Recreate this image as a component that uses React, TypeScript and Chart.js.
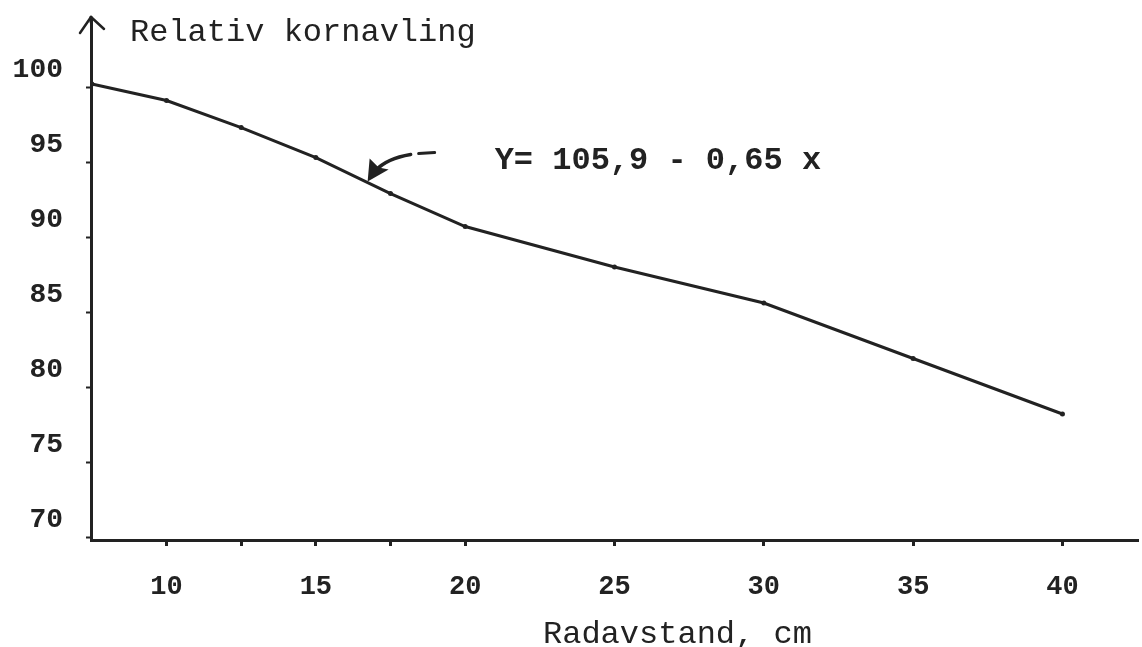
import React, { useEffect, useRef } from "react";
import { Chart, registerables } from "chart.js";

Chart.register(...registerables);

// ---- data ----
const rowSpacing = [7.5, 10, 12.5, 15, 17.5, 20, 25, 30, 35, 40];
const relativeYield = [100.2, 99.1, 97.3, 95.3, 92.9, 90.7, 88.0, 85.6, 81.9, 78.2];
const xTickValues = [10, 12.5, 15, 17.5, 20, 25, 30, 35, 40];
const xTickLabels = ["10", "", "15", "", "20", "25", "30", "35", "40"];
const yTickValues = [70, 75, 80, 85, 90, 95, 100];
const yTickLabels = ["70", "75", "80", "85", "90", "95", "100"];
const yTitle = "Relativ kornavling";
const xTitle = "Radavstand, cm";
const equation = "Y= 105,9 - 0,65 x";
const arrowAnchor = { x: 16.7, y: 93.7 };

const INK = "#222222";
const MONO = '"Liberation Mono", "DejaVu Sans Mono", monospace';

const decorPlugin = {
  id: "decor",
  afterDraw(chart: any) {
    const { ctx, chartArea, scales } = chart;
    const ax = chartArea.left;
    ctx.save();
    ctx.strokeStyle = INK;
    ctx.fillStyle = INK;
    ctx.lineCap = "round";
    ctx.lineJoin = "round";

    // y-axis arrowhead
    ctx.lineWidth = 3;
    ctx.beginPath();
    ctx.moveTo(ax, chartArea.top + 2);
    ctx.lineTo(ax, chartArea.top - 3);
    ctx.stroke();
    ctx.lineWidth = 2.5;
    ctx.beginPath();
    ctx.moveTo(ax - 11, chartArea.top + 13);
    ctx.lineTo(ax, chartArea.top - 3);
    ctx.lineTo(ax + 13, chartArea.top + 9);
    ctx.stroke();

    // y title (top, horizontal)
    ctx.font = `32px ${MONO}`;
    ctx.textAlign = "left";
    ctx.textBaseline = "alphabetic";
    ctx.fillText(yTitle, ax + 39, chartArea.top + 21);

    // x title
    ctx.font = `32px ${MONO}`;
    ctx.fillText(xTitle, ax + 452, chartArea.bottom + 103);

    // regression annotation with curved arrow
    const tx = scales.x.getPixelForValue(arrowAnchor.x);
    const ty = scales.y.getPixelForValue(arrowAnchor.y);
    ctx.lineWidth = 3;
    ctx.beginPath();
    ctx.moveTo(tx + 68, ty - 29);
    ctx.lineTo(tx + 52, ty - 28);
    ctx.stroke();
    ctx.lineWidth = 3.5;
    ctx.beginPath();
    ctx.moveTo(tx + 44, ty - 27);
    ctx.quadraticCurveTo(tx + 20, ty - 23, tx + 9, ty - 11);
    ctx.stroke();
    // arrowhead
    ctx.beginPath();
    ctx.moveTo(tx + 1, ty);
    ctx.lineTo(tx + 3, ty - 23);
    ctx.lineTo(tx + 12, ty - 14);
    ctx.lineTo(tx + 22, ty - 12);
    ctx.closePath();
    ctx.fill();

    ctx.font = `bold 32px ${MONO}`;
    ctx.fillText(equation, tx + 128, ty - 13);
    ctx.restore();
  },
};

export default function App() {
  const canvasRef = useRef<HTMLCanvasElement | null>(null);

  useEffect(() => {
    const canvas = canvasRef.current;
    if (!canvas) return;
    const chart = new Chart(canvas, {
      type: "line",
      data: {
        datasets: [
          {
            data: rowSpacing.map((x, i) => ({ x, y: relativeYield[i] })),
            borderColor: INK,
            backgroundColor: INK,
            borderWidth: 3,
            pointRadius: 2.5,
            pointBackgroundColor: INK,
            pointBorderWidth: 0,
            tension: 0,
            fill: false,
          },
        ],
      },
      options: {
        animation: false,
        responsive: false,
        maintainAspectRatio: false,
        layout: { padding: { top: 20, left: 0, right: 0, bottom: 0 } },
        plugins: {
          legend: { display: false },
          tooltip: { enabled: false },
          title: { display: false },
        },
        scales: {
          x: {
            type: "linear",
            min: 7.47,
            max: 42.53,
            afterFit: (s: any) => {
              s.height = 107;
              s.paddingLeft = 0;
              s.paddingRight = 0;
            },
            afterBuildTicks: (s: any) => {
              s.ticks = xTickValues.map((v) => ({ value: v }));
            },
            border: { display: true, color: INK, width: 3 },
            grid: {
              display: true,
              drawOnChartArea: false,
              drawTicks: true,
              tickLength: 6,
              tickWidth: 3,
              tickColor: INK,
            },
            ticks: {
              autoSkip: false,
              maxRotation: 0,
              padding: 25,
              color: INK,
              font: { family: MONO, size: 27, weight: "bold" },
              callback: (value: any) => {
                const i = xTickValues.indexOf(Number(value));
                return i >= 0 ? xTickLabels[i] : "";
              },
            },
          },
          y: {
            type: "linear",
            min: 69.8,
            max: 104.47,
            afterFit: (s: any) => {
              s.width = 91;
              s.paddingTop = 0;
              s.paddingBottom = 0;
            },
            afterBuildTicks: (s: any) => {
              s.ticks = yTickValues.map((v) => ({ value: v }));
            },
            border: { display: true, color: INK, width: 3 },
            grid: {
              display: true,
              drawOnChartArea: false,
              drawTicks: true,
              tickLength: 5,
              tickWidth: 2,
              tickColor: INK,
            },
            ticks: {
              autoSkip: false,
              padding: 23,
              labelOffset: -17,
              color: INK,
              font: { family: MONO, size: 28, weight: "bold" },
              callback: (value: any) => {
                const i = yTickValues.indexOf(Number(value));
                return i >= 0 ? yTickLabels[i] : "";
              },
            },
          },
        },
      },
      plugins: [decorPlugin],
    });
    return () => chart.destroy();
  }, []);

  return (
    <div
      style={{
        position: "absolute",
        left: 0,
        top: 0,
        width: 1142,
        height: 647,
        background: "#ffffff",
      }}
    >
      <canvas ref={canvasRef} width={1142} height={647} style={{ display: "block" }} />
    </div>
  );
}
